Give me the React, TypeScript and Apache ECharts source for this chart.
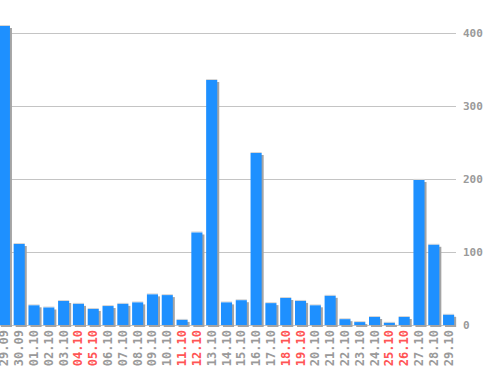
import React, { useEffect, useRef } from "react";
import * as echarts from "echarts";

const categories = [
  "29.09", "30.09", "01.10", "02.10", "03.10", "04.10", "05.10", "06.10",
  "07.10", "08.10", "09.10", "10.10", "11.10", "12.10", "13.10", "14.10",
  "15.10", "16.10", "17.10", "18.10", "19.10", "20.10", "21.10", "22.10",
  "23.10", "24.10", "25.10", "26.10", "27.10", "28.10", "29.10",
];
const values = [
  410, 111, 27, 24, 33, 29, 22, 26, 29, 31, 42, 41, 7, 127, 336, 31,
  34, 236, 30, 37, 33, 27, 40, 8, 4, 11, 3, 11, 199, 110, 14,
];
const weekendDates = ["04.10", "05.10", "11.10", "12.10", "18.10", "19.10", "25.10", "26.10"];
const yTicks = [0, 100, 200, 300, 400];

export default function App() {
  const ref = useRef<HTMLDivElement>(null);
  useEffect(() => {
    if (!ref.current) return;
    const chart = echarts.init(ref.current, null, { renderer: "svg" });
    chart.setOption({
      animation: false,
      backgroundColor: "#ffffff",
      grid: { left: 0, right: 42, top: 33.3, bottom: 45 },
      xAxis: {
        type: "category",
        data: categories,
        axisLine: { show: false },
        axisTick: { show: false },
        axisLabel: {
          rotate: 90,
          margin: 5,
          interval: 0,
          fontFamily: "DejaVu Sans Mono",
          fontSize: 12,
          fontWeight: "bold",
          color: (v: string) => (weekendDates.includes(v) ? "#ff5555" : "#9a9a9a"),
        },
      },
      yAxis: {
        type: "value",
        position: "right",
        min: yTicks[0],
        max: yTicks[yTicks.length - 1],
        interval: 100,
        axisLine: { show: false },
        axisTick: { show: false },
        splitLine: { lineStyle: { color: "#c4c4c4", width: 1 } },
        axisLabel: {
          margin: 7,
          fontFamily: "DejaVu Sans Mono",
          fontSize: 11,
          fontWeight: "bold",
          color: "#9a9a9a",
        },
      },
      series: [
        {
          type: "custom",
          data: values.map((v, i) => [i, v]),
          encode: { x: 0, y: 1 },
          renderItem: (params: any, api: any) => {
            const idx = api.value(0);
            const val = api.value(1);
            const top = api.coord([idx, val]);
            const base = api.coord([idx, 0]);
            const band = api.size([1, 0])[0];
            const w = band * 0.75;
            const x = top[0] - w / 2;
            const h = base[1] - top[1];
            return {
              type: "group",
              children: [
                {
                  type: "rect",
                  shape: { x: x + 2, y: top[1] + 2, width: w, height: h },
                  style: { fill: "#a4a4a4" },
                },
                {
                  type: "rect",
                  shape: { x: x, y: top[1] - 1, width: w, height: 1 },
                  style: { fill: "#d6d6d6" },
                },
                {
                  type: "rect",
                  shape: { x: x, y: top[1], width: w, height: h },
                  style: { fill: "#1e90ff" },
                },
              ],
            };
          },
        },
      ],
    });
    return () => chart.dispose();
  }, []);
  return (
    <div
      ref={ref}
      style={{ position: "fixed", left: -3, top: 0, width: 501, height: 370 }}
    />
  );
}
